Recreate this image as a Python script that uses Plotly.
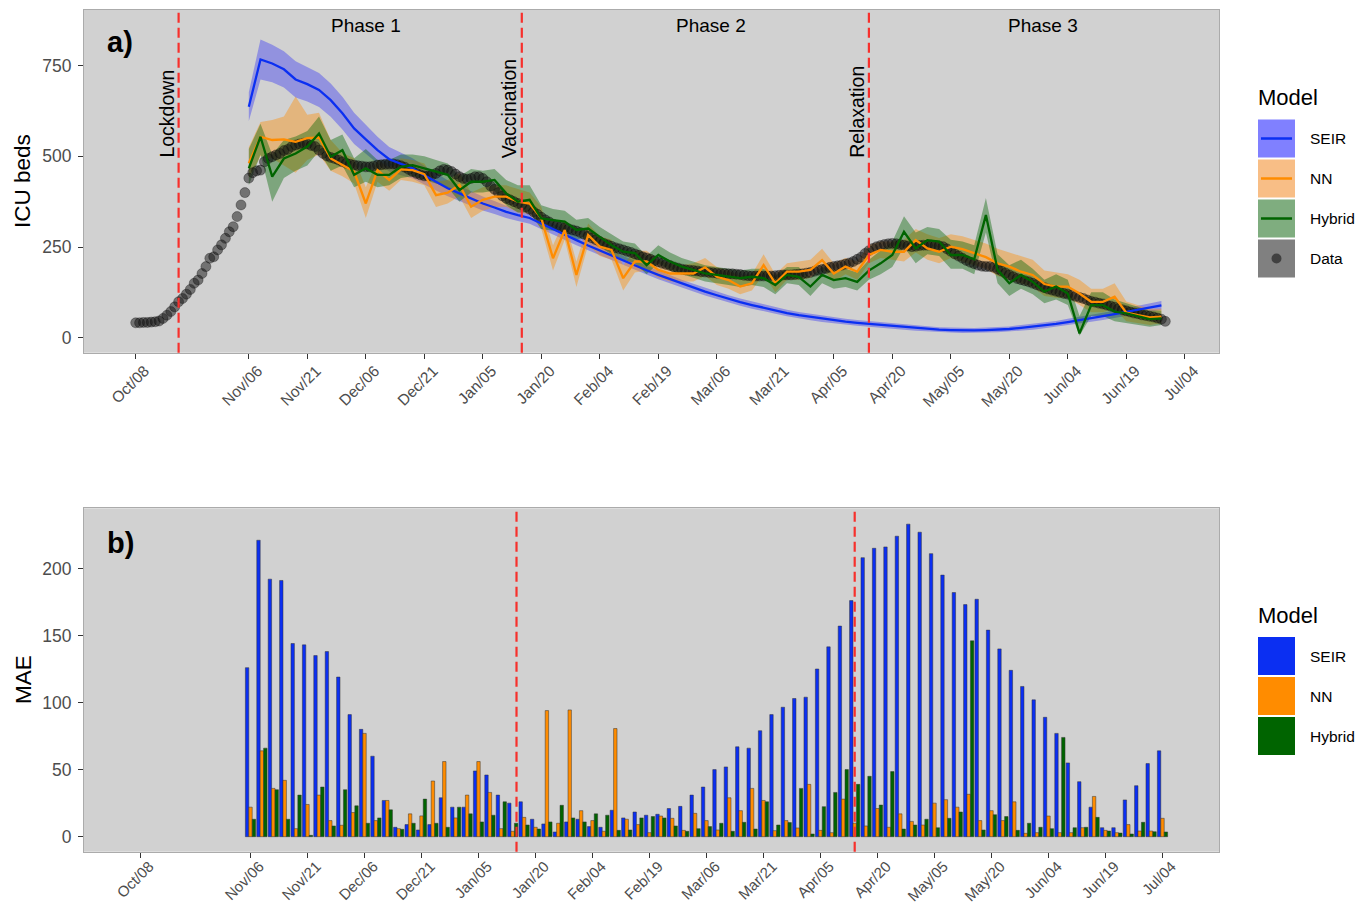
import pandas as pd
import plotly.graph_objects as go

W, H = 1369, 905

# ---------------- data ----------------
obs_start = "2020-10-08"          # daily ICU occupancy
icu_obs = [
    41, 41, 42, 42, 43, 44, 46, 53, 62, 72,
    85, 99, 108, 120, 133, 150, 159, 177, 196, 219,
    223, 242, 256, 274, 292, 306, 334, 366, 400, 440,
    455, 460, 462, 485, 494, 499, 504, 508, 516, 519,
    527, 531, 534, 536, 534, 530, 527, 517, 508, 501,
    497, 494, 490, 485, 481, 478, 476, 474, 473, 471,
    471, 473, 476, 477, 478, 479, 479, 477, 474, 470,
    464, 458, 453, 449, 446, 446, 449, 453, 460, 464,
    462, 458, 451, 444, 439, 437, 439, 444, 444, 439,
    430, 418, 409, 400, 391, 384, 380, 375, 370, 366,
    361, 354, 347,
    340, 332, 325, 319, 313, 309, 306, 303, 300, 297,
    294, 290, 285, 280, 275, 270, 265, 260, 256, 252,
    248, 245, 242, 238, 235, 231, 227, 223, 220, 216,
    212, 209, 205, 202, 199, 195, 192, 189, 187, 186,
    185, 184, 182, 181, 180, 179, 178, 177, 177, 176,
    176, 175, 174, 172, 171, 170, 170, 170, 170, 170,
    170, 171, 172, 173, 173, 173, 174, 175, 176, 178,
    180, 183, 186, 188, 191, 194, 196, 198, 200, 203,
    206, 210, 216, 222, 232, 240, 246, 251, 254, 257,
    259, 260, 259, 257, 255, 253, 251, 252, 254, 255,
    255, 255, 254, 253, 251, 245, 238, 231, 225, 219,
    213, 208, 204, 200, 197, 196, 196, 194, 189, 184,
    178, 173, 168, 163, 160, 157, 154, 150, 146, 142,
    138, 134, 131, 128, 125, 122, 120, 117, 114, 111,
    108, 104, 100, 98, 95, 93, 90, 87, 84, 80,
    77, 74, 71, 68, 66, 63, 61, 59, 57, 54,
    51, 45,
]

fc_start = "2020-11-06"           # model forecasts, one every 3 days
seir = [
    637, 767, 756, 740, 712, 699, 683, 655, 619, 577, 547, 517, 492, 479, 467,
    448, 430, 412, 398, 384, 370, 359, 347, 338, 330,
    315, 299, 284, 269, 254, 240, 226, 212, 199, 186, 173, 161, 149, 138, 127,
    117, 107, 98, 90, 82, 75, 68, 62, 57, 52, 48, 44, 41, 38,
    35, 32, 29, 26, 24, 22, 21, 20, 20, 21, 22, 24, 27, 30, 34, 38, 43, 48, 53,
    59, 65, 71, 77, 83, 89,
]
seir_lo = [
    597, 712, 704, 690, 662, 651, 636, 609, 574, 534, 507, 480, 458, 448, 439,
    422, 406, 390, 377, 364, 351, 341, 330, 322, 314,
    300, 284, 270, 255, 241, 227, 213, 200, 187, 174, 161, 150, 138, 127, 116,
    107, 97, 88, 80, 72, 66, 59, 53, 48, 43, 40, 36, 33, 30,
    27, 24, 22, 19, 17, 15, 14, 13, 13, 14, 15, 17, 19, 22, 26, 30, 34, 39, 44,
    49, 55, 60, 66, 71, 77,
]
seir_hi = [
    677, 822, 808, 790, 762, 747, 730, 701, 664, 620, 587, 554, 526, 510, 495,
    474, 454, 434, 419, 404, 389, 377, 364, 354, 346,
    330, 314, 298, 283, 267, 253, 239, 224, 211, 198, 185, 172, 160, 149, 138,
    127, 117, 108, 100, 92, 84, 77, 71, 66, 61, 56, 52, 49, 46,
    43, 40, 36, 33, 31, 29, 28, 27, 27, 28, 29, 31, 35, 38, 42, 46, 52, 57, 62,
    69, 75, 82, 88, 95, 101,
]
nn = [
    481, 554, 545, 547, 540, 550, 552, 494, 476, 458, 370, 462, 435, 464, 462,
    451, 393, 400, 421, 361, 380, 389, 389, 375, 370,
    329, 219, 297, 173, 283, 251, 242, 164, 210, 210, 187, 177, 176, 177, 194,
    168, 159, 141, 150, 200, 150, 182, 182, 187, 214, 177, 196, 182, 228,
    242, 237, 237, 269, 246, 237, 251, 244, 233, 222, 205, 196, 182, 173, 148,
    141, 141, 122, 99, 99, 113, 69, 62, 56, 58,
]
nn_lo = [
    440, 500, 495, 475, 455, 490, 505, 460, 445, 425, 330, 430, 405, 435, 430,
    420, 360, 370, 390, 330, 350, 360, 360, 345, 340,
    300, 185, 270, 140, 255, 225, 215, 130, 180, 185, 165, 155, 155, 155, 170,
    145, 135, 120, 130, 175, 125, 160, 160, 165, 190, 155, 175, 160, 205,
    220, 215, 210, 235, 215, 205, 220, 210, 200, 190, 170, 160, 150, 140, 115,
    110, 110, 90, 70, 70, 80, 45, 40, 35, 40,
]
nn_hi = [
    525, 595, 600, 610, 665, 615, 620, 545, 510, 495, 415, 490, 470, 495, 490,
    480, 430, 435, 455, 400, 415, 420, 420, 410, 400,
    360, 255, 325, 210, 315, 280, 270, 200, 240, 240, 215, 205, 200, 205, 220,
    195, 185, 170, 175, 230, 175, 205, 210, 215, 245, 205, 220, 210, 255,
    265, 265, 270, 300, 285, 275, 285, 280, 270, 260, 245, 235, 225, 215, 185,
    180, 175, 160, 135, 135, 150, 100, 90, 80, 80,
]
hybrid = [
    467, 554, 444, 494, 508, 527, 563, 499, 517, 449, 467, 449, 449, 471, 476,
    467, 458, 449, 407, 430, 430, 435, 398, 375, 380,
    329, 324, 320, 297, 301, 278, 255, 237, 233, 200, 228, 210, 196, 187, 177,
    173, 168, 164, 168, 164, 145, 173, 168, 141, 173, 159, 164, 154, 185,
    205, 228, 292, 246, 269, 265, 228, 228, 216, 338, 187, 150, 173, 154, 127,
    141, 122, 12, 90, 90, 72, 67, 58, 51, 53,
]
hybrid_lo = [
    420, 505, 375, 440, 460, 475, 515, 460, 475, 415, 430, 415, 420, 440, 445,
    435, 425, 415, 375, 400, 400, 405, 365, 345, 345,
    300, 295, 290, 270, 275, 250, 230, 215, 205, 175, 205, 185, 175, 165, 155,
    150, 145, 140, 145, 140, 120, 150, 145, 115, 150, 135, 140, 130, 160,
    175, 195, 250, 205, 230, 225, 190, 190, 175, 290, 150, 115, 135, 120, 95,
    105, 90, 5, 60, 60, 45, 40, 35, 30, 35,
]
hybrid_hi = [
    520, 590, 505, 545, 555, 570, 610, 545, 560, 495, 520, 490, 490, 505, 505,
    500, 490, 480, 445, 465, 460, 465, 435, 420, 420,
    365, 355, 350, 325, 330, 305, 285, 265, 260, 225, 255, 235, 220, 210, 200,
    195, 190, 185, 190, 190, 170, 195, 195, 165, 195, 185, 190, 180, 215,
    240, 265, 335, 290, 305, 300, 270, 265, 255, 385, 230, 200, 215, 190, 160,
    175, 160, 60, 125, 125, 105, 95, 85, 75, 75,
]

# mean absolute error of each model, one group every 3 days
mae_seir = [
    126, 221, 192, 191, 144, 143, 135, 138, 119, 91, 80, 60, 27, 7, 9, 5, 9,
    29, 22, 22, 49, 46, 31, 25,
    26, 13, 9.5, 3.5, 11, 13, 7.5, 7, 19.7, 14, 18.4, 16, 16.7, 21, 22.6, 31,
    37, 50, 52, 67, 66, 79, 91, 96.5, 103, 104, 125, 141.5, 157, 176,
    208, 215, 216, 224, 233, 227, 211, 195, 182, 173, 177, 154, 140, 124, 112,
    102, 89, 77, 55, 41, 22, 6.7, 6.7, 27.4, 38, 54.5, 64,
]
mae_nn = [
    22, 64, 36, 42, 6, 24, 31, 12, 8.5, 18, 77, 12, 27, 6, 17, 15.5, 41.5,
    56, 14, 31, 56, 33, 6, 4,
    14.4, 7, 94, 10, 94.5, 19.4, 12, 4, 80.6, 13, 9, 3, 15.4, 13.7, 4.7, 17.4,
    12, 5, 29, 19.4, 36, 27, 4.5, 12, 6.5, 39, 4.7, 3, 28, 10,
    8, 21, 7, 17, 11.4, 8.7, 25, 27.6, 22, 31.6, 12, 19.4, 12, 26, 2.5,
    3, 15.4, 3, 3, 6.7, 30, 4.7, 3, 9, 4.2, 4.2, 13.7,
]
mae_hybrid = [
    13, 66, 35, 13, 31, 1, 37, 8, 35, 23, 10, 14, 20, 5.5, 10, 28, 10,
    7, 22, 17, 11, 16, 26, 10,
    8.7, 5.7, 11, 23.4, 14, 11, 17, 16, 4.7, 5, 14, 15, 14, 8, 4, 6,
    7.5, 10, 4, 10.7, 5.7, 26, 8.7, 10.5, 36, 2, 22.4, 33, 50, 39,
    45, 23.6, 48.5, 5.7, 8.7, 13, 6.7, 13.7, 18.4, 146, 5, 16.4, 15, 4.7, 10,
    7, 6, 74, 6.7, 7, 14.4, 4.2, 2.7, 2, 10.7, 3.7, 3.5,
]

model_names = ["SEIR", "NN", "Hybrid"]
event_names = ["Lockdown", "Vaccination", "Relaxation"]
event_dates = ["2020-10-19", "2021-01-15", "2021-04-14"]
phase_names = ["Phase 1", "Phase 2", "Phase 3"]
phase_dates = ["2020-12-06 02:00", "2021-03-04 12:00", "2021-05-28 14:00"]

tick_dates = [
    "2020-10-08", "2020-11-06", "2020-11-21", "2020-12-06", "2020-12-21",
    "2021-01-05", "2021-01-20", "2021-02-04", "2021-02-19", "2021-03-06",
    "2021-03-21", "2021-04-05", "2021-04-20", "2021-05-05", "2021-05-20",
    "2021-06-04", "2021-06-19", "2021-07-04",
]
tick_labels = [
    "Oct/08", "Nov/06", "Nov/21", "Dec/06", "Dec/21", "Jan/05", "Jan/20",
    "Feb/04", "Feb/19", "Mar/06", "Mar/21", "Apr/05", "Apr/20", "May/05",
    "May/20", "Jun/04", "Jun/19", "Jul/04",
]

# ---------------- styling ----------------
FONT = "Liberation Sans, Arial, Helvetica, sans-serif"
BLUE, ORANGE, GREEN = "#0B2FF2", "#FF8C00", "#006400"
RIBBON = {"SEIR": "rgba(0,0,255,0.30)", "NN": "rgba(255,140,0,0.40)",
          "Hybrid": "rgba(0,100,0,0.40)"}
LINE = {"SEIR": BLUE, "NN": ORANGE, "Hybrid": GREEN}
PANEL = "#D1D1D1"
RED = "#F7302C"


def px_x(p):
    return p / W


def px_y(p):
    return 1 - p / H


def shift_date(base, days):
    return (pd.Timestamp(base) + pd.Timedelta(days=days)).strftime("%Y-%m-%d %H:%M:%S")


obs_dates = list(pd.date_range(obs_start, periods=len(icu_obs), freq="D"))
fc_dates = list(pd.date_range(fc_start, periods=len(seir), freq="3D"))
mae_dates = list(pd.date_range(fc_start, periods=len(mae_seir), freq="3D"))

fig = go.Figure()

# ---- panel a): ribbons, observations, model lines ----
series = {
    "SEIR": (seir, seir_lo, seir_hi),
    "NN": (nn, nn_lo, nn_hi),
    "Hybrid": (hybrid, hybrid_lo, hybrid_hi),
}
for name in model_names:
    mid, lo, hi = series[name]
    fig.add_trace(go.Scatter(
        x=fc_dates + fc_dates[::-1], y=list(hi) + list(lo)[::-1],
        fill="toself", fillcolor=RIBBON[name], line=dict(width=0),
        mode="lines", hoverinfo="skip", showlegend=False,
        xaxis="x", yaxis="y"))

fig.add_trace(go.Scatter(
    x=obs_dates, y=icu_obs, mode="markers",
    marker=dict(size=10, color="rgba(20,20,20,0.5)",
                line=dict(width=0.6, color="rgba(0,0,0,0.5)")),
    showlegend=False, xaxis="x", yaxis="y", name="Data"))

for name in model_names:
    mid, lo, hi = series[name]
    fig.add_trace(go.Scatter(
        x=fc_dates, y=mid, mode="lines",
        line=dict(color=LINE[name], width=2.3),
        showlegend=False, xaxis="x", yaxis="y", name=name))

# ---- panel b): MAE bars ----
for name, vals in zip(model_names, [mae_seir, mae_nn, mae_hybrid]):
    fig.add_trace(go.Bar(
        x=mae_dates, y=vals, name=name,
        marker=dict(color=LINE[name], line=dict(color="#333333", width=0.5)),
        showlegend=False, xaxis="x2", yaxis="y2"))

# ---- axes ----
x_dom = [px_x(84), px_x(1219)]
common_x = dict(
    type="date", tickmode="array", tickvals=tick_dates, ticktext=tick_labels,
    tickangle=-45, ticks="outside", ticklen=5, tickwidth=1.2, tickcolor="#333333",
    tickfont=dict(family=FONT, size=15.5, color="#4D4D4D"),
    ticklabelshift=9, ticklabelstandoff=-3,
    showgrid=False, zeroline=False, showline=True, mirror=True,
    linecolor="#ABABAB", linewidth=1, automargin=False, domain=x_dom)
common_y = dict(
    ticks="outside", ticklen=5, tickwidth=1.2, tickcolor="#333333",
    tickfont=dict(family=FONT, size=17.5, color="#4D4D4D"),
    ticklabelstandoff=3,
    showgrid=False, zeroline=False, showline=True, mirror=True,
    linecolor="#ABABAB", linewidth=1, automargin=False)

fig.update_layout(
    width=W, height=H, margin=dict(l=0, r=0, t=0, b=0),
    paper_bgcolor="white", plot_bgcolor=PANEL,
    barmode="group", bargap=0.1, bargroupgap=0,
    showlegend=False,
    xaxis=dict(common_x, anchor="y",
               range=[shift_date(obs_start, -13.26), shift_date(obs_start, 277.77)]),
    yaxis=dict(common_y, anchor="x", domain=[px_y(352.7), px_y(10)],
               range=[-41.4, 903.5], tickvals=[0, 250, 500, 750]),
    xaxis2=dict(common_x, anchor="y2",
                range=[shift_date(obs_start, -14.82), shift_date(obs_start, 283.87)]),
    yaxis2=dict(common_y, anchor="x2", domain=[px_y(851.7), px_y(508.3)],
                range=[-11.2, 244.8], tickvals=[0, 50, 100, 150, 200]),
)
# keep the lower date labels inside the page
fig.update_layout(xaxis2=dict(ticklabelstandoff=-6,
                              tickfont=dict(family=FONT, size=15, color="#4D4D4D")))

# ---- event lines ----
shapes = []
for d in event_dates:
    shapes.append(dict(type="line", xref="x", yref="y domain", x0=d, x1=d, y0=0, y1=1,
                       line=dict(color=RED, width=2.2, dash="10px,5px"), layer="above"))
for d in event_dates[1:]:
    shapes.append(dict(type="line", xref="x2", yref="y2 domain", x0=d, x1=d, y0=0, y1=1,
                       line=dict(color=RED, width=2.2, dash="10px,5px"), layer="above"))

annotations = []
for name, d in zip(event_names, event_dates):
    annotations.append(dict(x=d, y=490, xref="x", yref="y", text=name, showarrow=False,
                            textangle=-90, xanchor="center", yanchor="bottom", xshift=-12,
                            font=dict(family=FONT, size=19.5, color="black")))
for name, d in zip(phase_names, phase_dates):
    annotations.append(dict(x=d, y=862, xref="x", yref="y", text=name, showarrow=False,
                            xanchor="center", yanchor="middle",
                            font=dict(family=FONT, size=19, color="black")))

# panel tags and axis titles
for tag, cy in [("a)", 42), ("b)", 543)]:
    annotations.append(dict(x=px_x(120), y=px_y(cy), xref="paper", yref="paper",
                            text="<b>%s</b>" % tag, showarrow=False,
                            xanchor="center", yanchor="middle",
                            font=dict(family=FONT, size=29, color="black")))
for title, cy in [("ICU beds", 181), ("MAE", 680)]:
    annotations.append(dict(x=px_x(23), y=px_y(cy), xref="paper", yref="paper",
                            text=title, showarrow=False, textangle=-90,
                            xanchor="center", yanchor="middle",
                            font=dict(family=FONT, size=22.5, color="black")))

# ---- legends ----
def legend(title_y, first_top, keys):
    annotations.append(dict(x=px_x(1256), y=px_y(title_y), xref="paper", yref="paper",
                            text="Model", showarrow=False, xanchor="left", yanchor="middle",
                            font=dict(family=FONT, size=22, color="black")))
    for i, (label, fill, kind, color) in enumerate(keys):
        top = first_top + 40 * i
        bot = top + 38
        cy = (top + bot) / 2
        shapes.append(dict(type="rect", xref="paper", yref="paper",
                           x0=px_x(1258), x1=px_x(1295), y0=px_y(bot), y1=px_y(top),
                           fillcolor=fill, line=dict(width=0), layer="above"))
        if kind == "line":
            shapes.append(dict(type="line", xref="paper", yref="paper",
                               x0=px_x(1261), x1=px_x(1292), y0=px_y(cy), y1=px_y(cy),
                               line=dict(color=color, width=2.5), layer="above"))
        elif kind == "dot":
            shapes.append(dict(type="circle", xref="paper", yref="paper",
                               x0=px_x(1271.5), x1=px_x(1281.5),
                               y0=px_y(cy + 5), y1=px_y(cy - 5),
                               fillcolor=color, line=dict(width=0), layer="above"))
        annotations.append(dict(x=px_x(1308), y=px_y(cy), xref="paper", yref="paper",
                                text=label, showarrow=False, xanchor="left",
                                yanchor="middle",
                                font=dict(family=FONT, size=15.5, color="black")))


legend(97, 119.5, [
    ("SEIR", "#8080FF", "line", BLUE),
    ("NN", "#F8BE86", "line", ORANGE),
    ("Hybrid", "#7FAD7F", "line", GREEN),
    ("Data", "#808080", "dot", "#404040"),
])
legend(615, 637, [
    ("SEIR", BLUE, "box", None),
    ("NN", ORANGE, "box", None),
    ("Hybrid", GREEN, "box", None),
])

fig.update_layout(shapes=shapes, annotations=annotations)
fig.write_html("out.html")
